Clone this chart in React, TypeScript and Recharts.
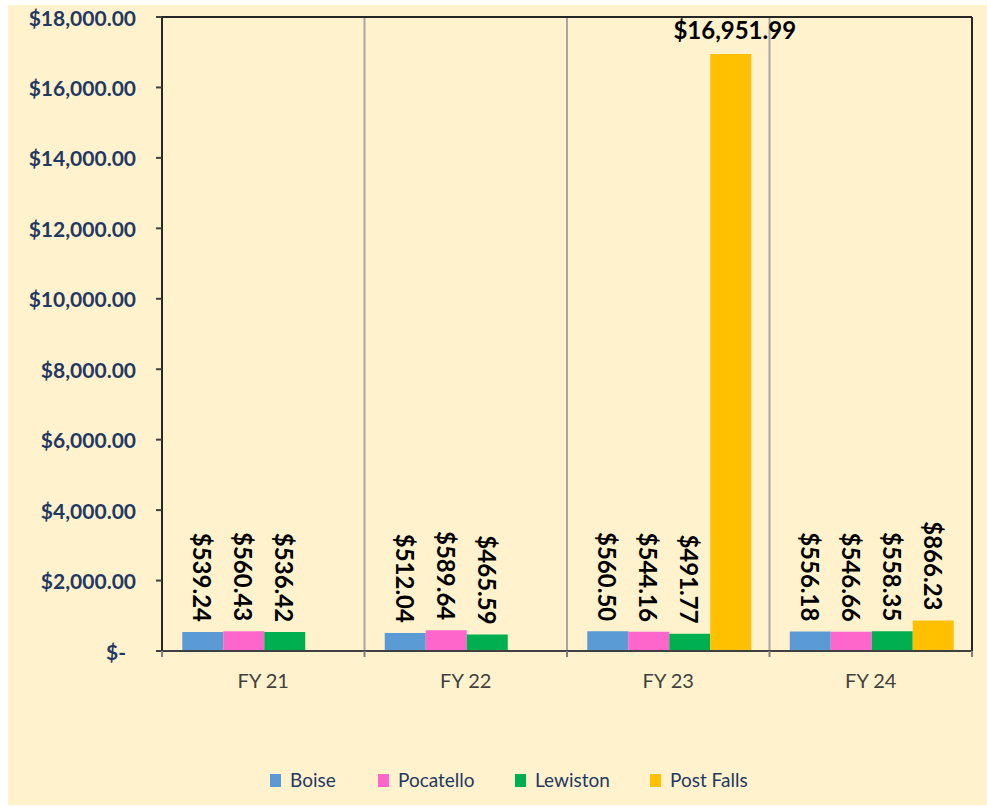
import { BarChart, Bar, XAxis, YAxis, CartesianGrid, LabelList } from "recharts";

const categories = ["FY 21", "FY 22", "FY 23", "FY 24"];
const boise = [539.24, 512.04, 560.5, 556.18];
const pocatello = [560.43, 589.64, 544.16, 546.66];
const lewiston = [536.42, 465.59, 491.77, 558.35];
const postFalls = [null, null, 16951.99, 866.23];
const yTicks = [0, 2000, 4000, 6000, 8000, 10000, 12000, 14000, 16000, 18000];

const seriesList = [
  { key: "boise", name: "Boise", color: "#5B9BD5" },
  { key: "pocatello", name: "Pocatello", color: "#FF66CC" },
  { key: "lewiston", name: "Lewiston", color: "#00B050" },
  { key: "postFalls", name: "Post Falls", color: "#FFC000" },
];

const data = categories.map((name, i) => ({
  name,
  boise: boise[i],
  pocatello: pocatello[i],
  lewiston: lewiston[i],
  postFalls: postFalls[i],
}));

const FONT = "Lato, 'Open Sans', sans-serif";
const NAVY = "#1F3864";
const FRAME = "#262626";
// legend item left edges, px
const legendLeft = [270, 378, 515, 650];

const money = (v: number) =>
  "$" + v.toLocaleString("en-US", { minimumFractionDigits: 2, maximumFractionDigits: 2 });

// grid lines on the category boundaries instead of the centres
const boundaries = ({ offset }: any) =>
  [0, 1, 2, 3].map((i) => offset.left + (i * offset.width) / categories.length);
const frameRight = ({ offset }: any) => [offset.left + offset.width];
const frameTop = ({ offset }: any) => [offset.top];

const YTick = (props: any) => {
  const { x, y, payload } = props;
  const zero = payload.value === 0;
  return (
    <text
      x={zero ? x - 10 : x}
      y={y}
      textAnchor="end"
      dominantBaseline="central"
      fill={NAVY}
      fontFamily={FONT}
      fontWeight={700}
      fontSize={21}
    >
      {zero ? "$-" : money(payload.value)}
    </text>
  );
};

const XTick = (props: any) => {
  const { x, y, payload, width, index, visibleTicksCount } = props;
  const band = Number(width) / (visibleTicksCount || categories.length);
  const axisY = Number(y) - 23;
  const last = index === (visibleTicksCount || categories.length) - 1;
  return (
    <g>
      <line x1={x - band / 2} x2={x - band / 2} y1={axisY} y2={axisY + 6} stroke="#808080" strokeWidth={2} />
      {last && (
        <line x1={x + band / 2} x2={x + band / 2} y1={axisY} y2={axisY + 6} stroke="#808080" strokeWidth={2} />
      )}
      <text x={x} y={y} dy="0.71em" textAnchor="middle" fill="#404040" fontFamily={FONT} fontSize={20}>
        {payload.value}
      </text>
    </g>
  );
};

const ValueLabel = (props: any) => {
  const { x, y, width, value } = props;
  if (value == null) return null;
  const cx = Number(x) + Number(width) / 2;
  // tall bar near the top: Excel puts this one flat
  if (Number(y) < 150) {
    return (
      <text
        x={cx + 4}
        y={Number(y) - 15}
        textAnchor="middle"
        fill="#000"
        fontFamily={FONT}
        fontWeight={700}
        fontSize={24}
      >
        {money(value)}
      </text>
    );
  }
  const ty = Number(y) - 10;
  return (
    <text
      x={cx}
      y={ty}
      transform={`rotate(90, ${cx}, ${ty})`}
      textAnchor="end"
      dominantBaseline="central"
      fill="#000"
      fontFamily={FONT}
      fontWeight={700}
      fontSize={24}
    >
      {money(value)}
    </text>
  );
};

export default function App() {
  return (
    <div
      style={{
        position: "fixed",
        left: 0,
        top: 0,
        width: 987,
        height: 806,
        background: "#fff",
        fontFamily: FONT,
      }}
    >
      <div
        style={{ position: "absolute", left: 8, top: 5, right: 0, bottom: 1, background: "#FFF2CC" }}
      />
      <div style={{ position: "absolute", left: 0, top: 0 }}>
        <BarChart
          width={987}
          height={806}
          data={data}
          margin={{ top: 17, right: 15, bottom: 120, left: 0 }}
          barCategoryGap="10%"
          barGap={0}
        >
          <CartesianGrid
            horizontal={false}
            verticalCoordinatesGenerator={boundaries}
            stroke="#A6A6A6"
            strokeWidth={2}
          />
          <CartesianGrid
            verticalCoordinatesGenerator={frameRight}
            horizontalCoordinatesGenerator={frameTop}
            stroke={FRAME}
            strokeWidth={2}
          />
          <XAxis
            dataKey="name"
            height={35}
            axisLine={{ stroke: "#404040", strokeWidth: 2 }}
            tickLine={false}
            tickSize={6}
            tickMargin={17}
            tick={<XTick />}
          />
          <YAxis
            domain={[0, 18000]}
            ticks={yTicks}
            width={162}
            tickSize={6}
            tickMargin={20}
            tick={<YTick />}
            axisLine={{ stroke: FRAME, strokeWidth: 2 }}
            tickLine={{ stroke: "#404040", strokeWidth: 2 }}
          />
          {seriesList.map((s) => (
            <Bar key={s.key} dataKey={s.key} name={s.name} fill={s.color} isAnimationActive={false}>
              <LabelList dataKey={s.key} content={<ValueLabel />} />
            </Bar>
          ))}
        </BarChart>
      </div>
      {seriesList.map((s, i) => (
        <div
          key={s.key}
          style={{
            position: "absolute",
            left: legendLeft[i],
            top: 769,
            height: 22,
            display: "flex",
            alignItems: "center",
          }}
        >
          <div style={{ width: 11, height: 13, background: s.color }} />
          <span style={{ marginLeft: 9, color: NAVY, fontSize: 19, lineHeight: "22px" }}>{s.name}</span>
        </div>
      ))}
    </div>
  );
}
